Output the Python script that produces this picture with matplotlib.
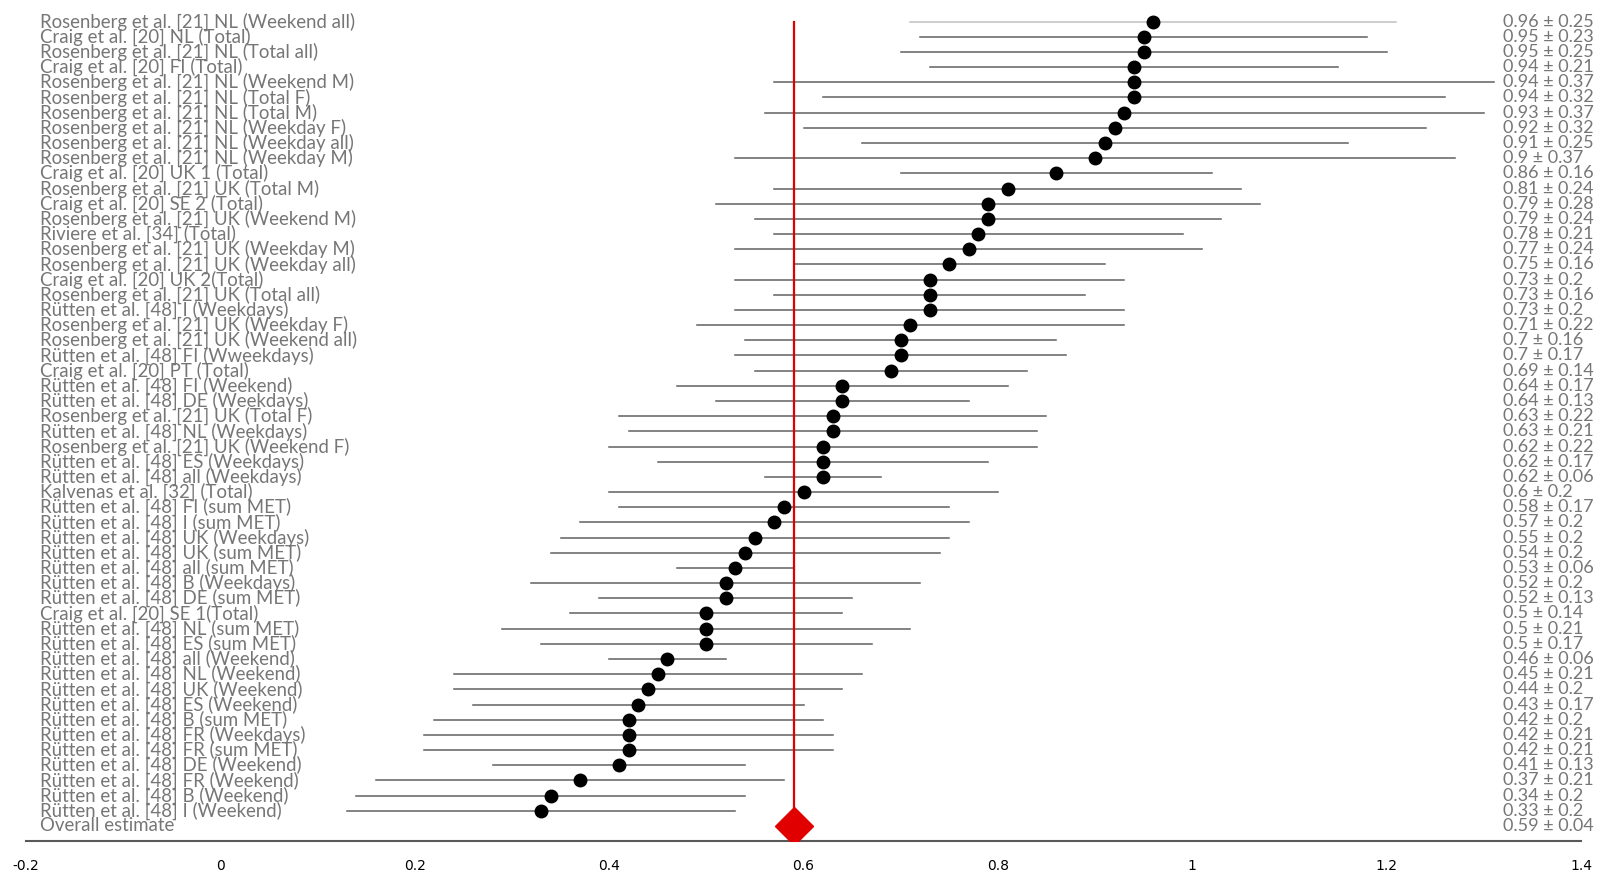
import matplotlib
matplotlib.use('Agg')
import matplotlib.pyplot as plt

# ── data ────────────────────────────────────────────────────────────────────
labels = [
    "Rosenberg et al. [21] NL (Weekend all)",
    "Craig et al. [20] NL (Total)",
    "Rosenberg et al. [21] NL (Total all)",
    "Craig et al. [20] FI (Total)",
    "Rosenberg et al. [21] NL (Weekend M)",
    "Rosenberg et al. [21] NL (Total F)",
    "Rosenberg et al. [21] NL (Total M)",
    "Rosenberg et al. [21] NL (Weekday F)",
    "Rosenberg et al. [21] NL (Weekday all)",
    "Rosenberg et al. [21] NL (Weekday M)",
    "Craig et al. [20] UK 1 (Total)",
    "Rosenberg et al. [21] UK (Total M)",
    "Craig et al. [20] SE 2 (Total)",
    "Rosenberg et al. [21] UK (Weekend M)",
    "Riviere et al. [34] (Total)",
    "Rosenberg et al. [21] UK (Weekday M)",
    "Rosenberg et al. [21] UK (Weekday all)",
    "Craig et al. [20] UK 2(Total)",
    "Rosenberg et al. [21] UK (Total all)",
    "Rütten et al. [48] I (Weekdays)",
    "Rosenberg et al. [21] UK (Weekday F)",
    "Rosenberg et al. [21] UK (Weekend all)",
    "Rütten et al. [48] FI (Wweekdays)",
    "Craig et al. [20] PT (Total)",
    "Rütten et al. [48] FI (Weekend)",
    "Rütten et al. [48] DE (Weekdays)",
    "Rosenberg et al. [21] UK (Total F)",
    "Rütten et al. [48] NL (Weekdays)",
    "Rosenberg et al. [21] UK (Weekend F)",
    "Rütten et al. [48] ES (Weekdays)",
    "Rütten et al. [48] all (Weekdays)",
    "Kalvenas et al. [32] (Total)",
    "Rütten et al. [48] FI (sum MET)",
    "Rütten et al. [48] I (sum MET)",
    "Rütten et al. [48] UK (Weekdays)",
    "Rütten et al. [48] UK (sum MET)",
    "Rütten et al. [48] all (sum MET)",
    "Rütten et al. [48] B (Weekdays)",
    "Rütten et al. [48] DE (sum MET)",
    "Craig et al. [20] SE 1(Total)",
    "Rütten et al. [48] NL (sum MET)",
    "Rütten et al. [48] ES (sum MET)",
    "Rütten et al. [48] all (Weekend)",
    "Rütten et al. [48] NL (Weekend)",
    "Rütten et al. [48] UK (Weekend)",
    "Rütten et al. [48] ES (Weekend)",
    "Rütten et al. [48] B (sum MET)",
    "Rütten et al. [48] FR (Weekdays)",
    "Rütten et al. [48] FR (sum MET)",
    "Rütten et al. [48] DE (Weekend)",
    "Rütten et al. [48] FR (Weekend)",
    "Rütten et al. [48] B (Weekend)",
    "Rütten et al. [48] I (Weekend)",
]
means = [0.96, 0.95, 0.95, 0.94, 0.94, 0.94, 0.93, 0.92, 0.91, 0.9,
         0.86, 0.81, 0.79, 0.79, 0.78, 0.77, 0.75, 0.73, 0.73, 0.73,
         0.71, 0.7, 0.7, 0.69, 0.64, 0.64, 0.63, 0.63, 0.62, 0.62,
         0.62, 0.6, 0.58, 0.57, 0.55, 0.54, 0.53, 0.52, 0.52, 0.5,
         0.5, 0.5, 0.46, 0.45, 0.44, 0.43, 0.42, 0.42, 0.42, 0.41,
         0.37, 0.34, 0.33]
sds = [0.25, 0.23, 0.25, 0.21, 0.37, 0.32, 0.37, 0.32, 0.25, 0.37,
       0.16, 0.24, 0.28, 0.24, 0.21, 0.24, 0.16, 0.2, 0.16, 0.2,
       0.22, 0.16, 0.17, 0.14, 0.17, 0.13, 0.22, 0.21, 0.22, 0.17,
       0.06, 0.2, 0.17, 0.2, 0.2, 0.2, 0.06, 0.2, 0.13, 0.14,
       0.21, 0.17, 0.06, 0.21, 0.2, 0.17, 0.2, 0.21, 0.21, 0.13,
       0.21, 0.2, 0.2]
overall_label = "Overall estimate"
overall_mean = 0.59
overall_sd = 0.04
xticks = [-0.2, 0, 0.2, 0.4, 0.6, 0.8, 1, 1.2, 1.4]

# ── style ───────────────────────────────────────────────────────────────────
FONT = 'Lato'
TXT = '#767676'
BAR = '#606060'
RED = '#e00000'

fig = plt.figure(figsize=(16.13, 8.84), dpi=100)
ax = fig.add_axes([26/1613, 43/884, (1581-26)/1613, 841/884])

n = len(labels)
ys = list(range(n))

for i, (m, s) in enumerate(zip(means, sds)):
    col = '#c0c0c0' if i == 0 else BAR
    ax.plot([m - s, m + s], [i, i], color=col, lw=1.1, zorder=2)
ax.plot(means, ys, 'o', color='black', ms=9, zorder=4)

# overall estimate: red reference line + diamond
ax.plot([overall_mean, overall_mean], [0, n], color=RED, lw=1.6, zorder=3)
ax.plot([overall_mean], [n], 'D', color=RED, ms=19, zorder=5)

# text columns (labels left, value ± sd right)
for i, lab in enumerate(labels + [overall_label]):
    ax.text(-0.186, i, lab, ha='left', va='center', fontsize=13.4,
            color=TXT, family=FONT)
for i, (m, s) in enumerate(zip(means + [overall_mean], sds + [overall_sd])):
    ax.text(1.32, i, f"{m:g} ± {s:g}", ha='left', va='center', fontsize=13,
            color=TXT, family=FONT)

ax.set_xlim(-0.2, 1.4)
ax.set_ylim(n + 0.99, -1.42)
ax.set_xticks(xticks)
ax.set_xticklabels([f"{t:g}" for t in xticks], fontsize=15, color=TXT, family=FONT)
ax.tick_params(axis='x', length=0, pad=13)
ax.set_yticks([])
for side in ['top', 'right', 'left']:
    ax.spines[side].set_visible(False)
ax.spines['bottom'].set_color('#595959')
ax.spines['bottom'].set_linewidth(1.5)
ax.spines['bottom'].set_position(('data', n + 0.99))

fig.savefig('out.png', dpi=100)
